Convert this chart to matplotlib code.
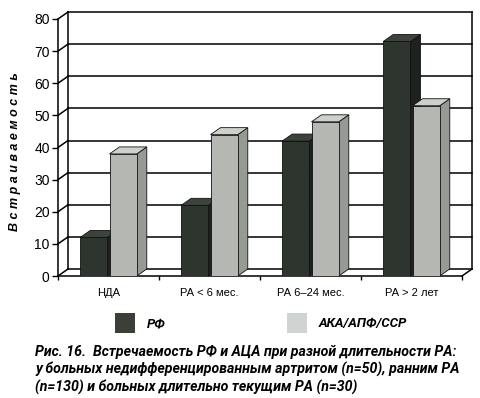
import numpy as np
import matplotlib
matplotlib.use("Agg")
import matplotlib.pyplot as plt
from matplotlib.patches import Polygon, Rectangle

categories = ["НДА", "РА < 6 мес.", "РА 6–24 мес.", "РА > 2 лет"]
rf = [12, 22, 42, 73]
aca = [38, 44, 48, 53]
series_names = ["РФ", "АКА/АПФ/ССР"]
yticks = [0, 10, 20, 30, 40, 50, 60, 70, 80]
ylabel = "В с т р а и в а е м о с т ь"
caption = ("Рис. 16.  Встречаемость РФ и АЦА при разной длительности РА:\n"
           "у больных недифференцированным артритом (n=50), ранним РА\n"
           "(n=130) и больных длительно текущим РА (n=30)")

W, H = 480, 398
fig = plt.figure(figsize=(W / 100, H / 100), dpi=100)
x0, x1, y0, y1 = 58, 462, 276, 19
ax = fig.add_axes([x0 / W, 1 - y0 / H, (x1 - x0) / W, (y0 - y1) / H])
ax.set_xlim(0, 4)
ax.set_ylim(0, 80)

# 3d depth in data units (about 10 px right, 7 px up)
dx = 4 * 10 / (x1 - x0)
dy = 80 * 7 / (y0 - y1)

lk = dict(color="black", lw=1.1, clip_on=False)
# back wall frame and grid
for y in yticks:
    ax.plot([dx, 4 + dx], [y + dy, y + dy], **lk)
    ax.plot([0, dx], [y, y + dy], **lk)
ax.plot([dx, dx], [dy, 80 + dy], **lk)
ax.plot([4 + dx, 4 + dx], [dy, 80 + dy], **lk)
ax.plot([4, 4 + dx], [0, dy], **lk)

colors = [("#2e342e", "#3c433c", "#1e221e"),
          ("#b4b7b2", "#cdd0cb", "#969a94")]
bw = 0.27
offsets = [0.22, 0.51]
for s, vals in enumerate([rf, aca]):
    front, top, side = colors[s]
    for i, v in enumerate(vals):
        left = i + offsets[s]
        right = left + bw
        ax.add_patch(Polygon([(right, 0), (right + dx, dy), (right + dx, v + dy), (right, v)],
                             closed=True, fc=side, ec="#111111", lw=0.6, clip_on=False, zorder=3))
        ax.add_patch(Polygon([(left, v), (left + dx, v + dy), (right + dx, v + dy), (right, v)],
                             closed=True, fc=top, ec="#111111", lw=0.6, clip_on=False, zorder=3))
        ax.bar(left, v, width=bw, align="edge", color=front, edgecolor="#111111",
               linewidth=0.6, zorder=4)

for sp in ["top", "right"]:
    ax.spines[sp].set_visible(False)
ax.spines["left"].set_linewidth(1.1)
ax.spines["bottom"].set_linewidth(1.1)
ax.set_yticks(yticks)
ax.set_yticklabels([str(t) for t in yticks], fontsize=10, family="Liberation Sans")
ax.tick_params(axis="y", direction="out", length=4, width=1, pad=2)
ax.set_xticks([0, 1, 2, 3, 4])
ax.set_xticklabels([])
ax.tick_params(axis="x", direction="out", length=3, width=1)
ax.set_xticks(np.arange(len(categories)) + 0.5, minor=True)
ax.set_xticklabels(categories, minor=True, fontsize=8, family="Liberation Sans")
ax.tick_params(axis="x", which="minor", length=0, pad=9)

fig.text(15 / W, 1 - 152 / H, ylabel, rotation=90, ha="center", va="center",
         fontsize=9, fontweight="bold", fontstyle="italic", family="Liberation Sans")

cap_font = dict(family="Roboto", fontweight="bold", fontstyle="italic")

# legend
leg_x = [115, 287]
leg_fc = ["#3a3f38", "#cfd3d2"]
for k, name in enumerate(series_names):
    fig.add_artist(Rectangle((leg_x[k] / W, 1 - 333 / H), 20 / W, 20 / H,
                             transform=fig.transFigure, fc=leg_fc[k], ec="none"))
    fig.text((leg_x[k] + 32) / W, 1 - 324 / H, name, ha="left", va="center",
             fontsize=9.5, **cap_font)

fig.text(35 / W, 1 - 345 / H, caption, ha="left", va="top", fontsize=10.2,
         linespacing=1.24, **cap_font)

fig.savefig("out.png", dpi=100)
